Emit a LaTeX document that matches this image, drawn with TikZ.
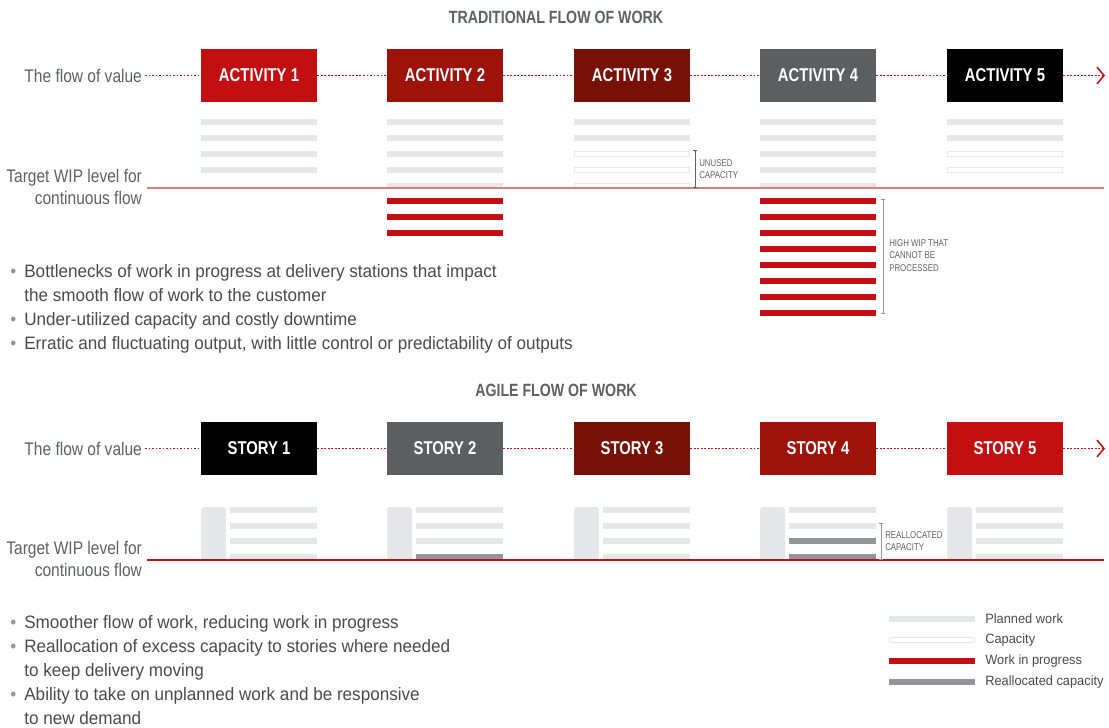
\documentclass[tikz,border=0pt]{standalone}
\usepackage{fontspec}
\setmainfont{Liberation Sans}[FakeStretch=0.8]
\newfontfamily\cuerpo{Liberation Sans}[FakeStretch=0.95]
\newfontfamily\rotulo{Liberation Sans}[FakeStretch=0.85]
\usepackage{xcolor}
\usetikzlibrary{arrows.meta}

\definecolor{rojoA}{HTML}{C10F12}
\definecolor{rojoB}{HTML}{9D1209}
\definecolor{rojoC}{HTML}{771006}
\definecolor{grisB}{HTML}{5D5E61}
\definecolor{plan}{HTML}{E6E7E8}
\definecolor{reasig}{HTML}{939598}
\definecolor{texto}{HTML}{4A4A4C}
\definecolor{titulo}{HTML}{5F6062}

\newcommand{\vineta}{\makebox[10pt][l]{\textcolor{reasig}{\textbullet}}}
\newcommand{\sangria}{\hspace*{10pt}}

\tikzset{
	caja/.style={minimum width=2.9cm, minimum height=1.33cm, inner sep=0pt, text=white, font=\fontsize{13.2}{15}\selectfont\bfseries},
	flujo/.style={draw=rojoA, line width=1.2pt, dash pattern=on 1.2pt off 1.3pt},
	etiq/.style={text=titulo, font=\rotulo\fontsize{13}{15.6}\selectfont, align=right, inner sep=2pt, anchor=east},
	tit/.style={text=titulo, font=\fontsize{12.6}{15}\selectfont\bfseries},
	nota/.style={text=titulo, font=\fontsize{7}{8.7}\selectfont, align=left, anchor=west, inner sep=0pt},
	lista/.style={text=texto, font=\cuerpo\fontsize{12.8}{17.07}\selectfont, align=left, anchor=west, inner sep=0pt},
	ley/.style={text=texto, font=\cuerpo\fontsize{9.6}{12}\selectfont, anchor=west, inner sep=0pt},
	capac/.style={draw=plan, fill=white, line width=0.75pt},
	cota/.style={line width=0.6pt, {Bar[width=3pt,line width=0.6pt]}-{Bar[width=3pt,line width=0.6pt]}}
}

\begin{document}
\begin{tikzpicture}[x=0.025cm, y=-0.025cm]
	\useasboundingbox (0,0) rectangle (1109,728);
	
	% flujo tradicional
	\node[tit] (tit1) at (556,17) {TRADITIONAL FLOW OF WORK};
	\node[etiq] (valor1) at (145,75.5) {The flow of value};
	\node[etiq] (meta1) at (145,187) {Target WIP level for\\continuous flow};
	\foreach \n/\xc/\col in {1/259/rojoA, 2/445/rojoB, 3/632/rojoC, 4/818/grisB, 5/1005/black} {
		\node[caja, fill=\col] (act\n) at (\xc,75.5) {ACTIVITY \n};
	}
	\coordinate (fin1) at (1105,75.5);
	\draw[flujo] (valor1.east) -- (act1.west);
	\foreach \i/\j in {1/2, 2/3, 3/4, 4/5} {
		\draw[flujo] (act\i.east) -- (act\j.west);
	}
	\draw[flujo, -{Straight Barb[length=5pt, width=12pt, line width=1.1pt]}] (act5.east) -- (fin1);
	
	\foreach \xl/\np in {201/4, 387/5, 574/2, 760/5, 947/2} {
		\foreach \k in {1,...,\np} \fill[plan] (\xl,103+16*\k) rectangle ++(116,6);
	}
	\foreach \xl/\k in {574/3, 574/4, 574/5, 947/3, 947/4} {
		\draw[capac] (\xl+0.5,103.5+16*\k) rectangle ++(115,5);
	}
	\foreach \k in {1,2,3} \fill[rojoA] (387,182+16*\k) rectangle ++(116,6);
	\foreach \k in {1,...,8} \fill[rojoA] (760,182+16*\k) rectangle ++(116,6);
	
	\coordinate (m1i) at (147,188);
	\coordinate (m1f) at (1104,188);
	\draw[line width=1.4pt, rojoA!55] (m1i) -- (m1f);
	
	\draw[cota, titulo] (695,150) -- (695,188);
	\node[nota] (unused) at (699,169) {UNUSED\\CAPACITY};
	\draw[cota, reasig] (883,199) -- (883,314);
	\node[nota] (highwip) at (889,255.5) {HIGH WIP THAT\\CANNOT BE\\PROCESSED};
	
	\node[lista] (lista1) at (10,309) {\vineta Bottlenecks of work in progress at delivery stations that impact\\
		\sangria the smooth flow of work to the customer\\
		\vineta Under-utilized capacity and costly downtime\\
		\vineta Erratic and fluctuating output, with little control or predictability of outputs};
	
	% flujo agil
	\node[tit] (tit2) at (556,390) {AGILE FLOW OF WORK};
	\node[etiq] (valor2) at (145,448.5) {The flow of value};
	\node[etiq] (meta2) at (145,559) {Target WIP level for\\continuous flow};
	\foreach \n/\xc/\col in {1/259/black, 2/445/grisB, 3/632/rojoC, 4/818/rojoB, 5/1005/rojoA} {
		\node[caja, fill=\col] (hist\n) at (\xc,448.5) {STORY \n};
	}
	\coordinate (fin2) at (1105,448.5);
	\draw[flujo] (valor2.east) -- (hist1.west);
	\foreach \i/\j in {1/2, 2/3, 3/4, 4/5} {
		\draw[flujo] (hist\i.east) -- (hist\j.west);
	}
	\draw[flujo, -{Straight Barb[length=5pt, width=12pt, line width=1.1pt]}] (hist5.east) -- (fin2);
	
	\foreach \xl in {201, 387, 574, 760, 947} {
		\fill[plan, rounded corners=2pt] (\xl,507) rectangle ++(25,53);
		\foreach \k in {1,...,4} \fill[plan] (\xl+29,491.3+15.7*\k) rectangle ++(87,6);
	}
	\foreach \xl/\k in {387/4, 760/3, 760/4} {
		\fill[reasig] (\xl+29,491.3+15.7*\k) rectangle ++(87,6);
	}
	
	\coordinate (m2i) at (147,560);
	\coordinate (m2f) at (1104,560);
	\draw[line width=1.1pt, rojoA] (m2i) -- (m2f);
	
	\draw[cota, reasig] (881,523) -- (881,560);
	\node[nota] (realloc) at (885,541) {REALLOCATED\\CAPACITY};
	
	\node[lista] (lista2) at (10,670) {\vineta Smoother flow of work, reducing work in progress\\
		\vineta Reallocation of excess capacity to stories where needed\\
		\sangria to keep delivery moving\\
		\vineta Ability to take on unplanned work and be responsive\\
		\sangria to new demand};
	
	% leyenda
	\fill[plan] (889,616) rectangle ++(86,6);
	\draw[capac] (889.5,637.5) rectangle ++(85,5);
	\fill[rojoA] (889,658) rectangle ++(86,6);
	\fill[reasig] (889,679) rectangle ++(86,6);
	\node[ley] (ley1) at (985,619) {Planned work};
	\node[ley] (ley2) at (985,640) {Capacity};
	\node[ley] (ley3) at (985,661) {Work in progress};
	\node[ley] (ley4) at (985,682) {Reallocated capacity};
\end{tikzpicture}
\end{document}
